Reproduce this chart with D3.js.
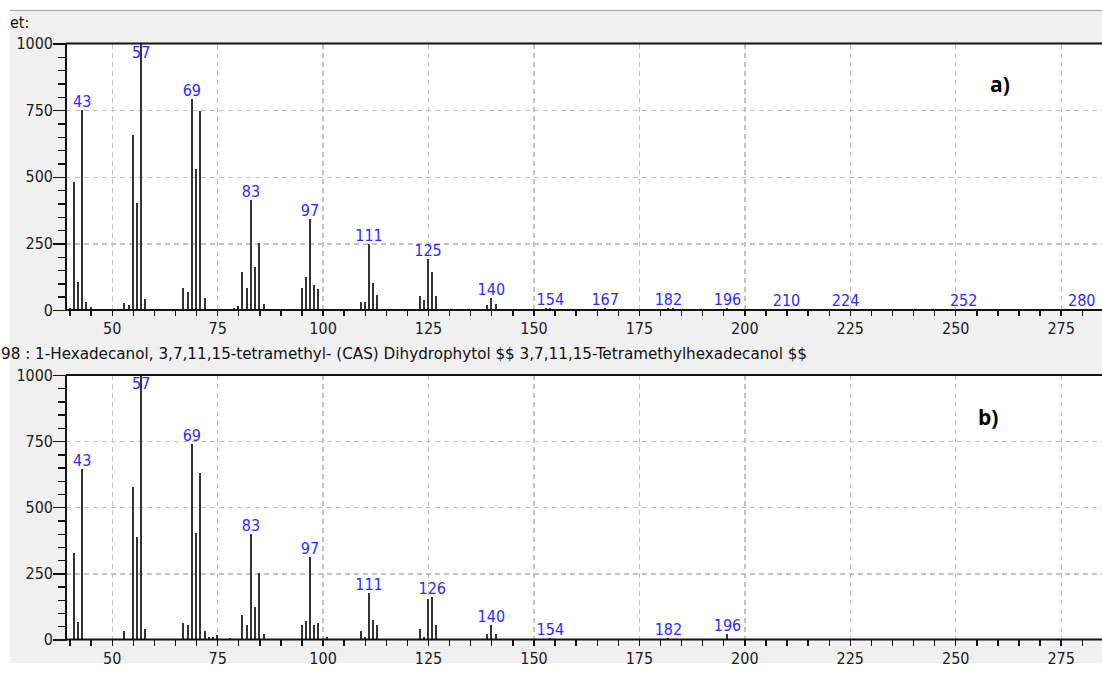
<!DOCTYPE html>
<html lang="en">
<head>
<meta charset="utf-8">
<title>Mass spectra a) and b)</title>
<script src="https://cdn.jsdelivr.net/npm/d3@7"></script>
<style>
	body { margin: 0; background: #fff; }
	.axis path { display: none; }
	.axis line { stroke: #111; stroke-width: 1.4; shape-rendering: crispEdges; }
	.axis text { font-family: "DejaVu Sans Condensed", "DejaVu Sans", sans-serif; font-size: 16px; fill: #1c1c1c; }
	.grid path { display: none; }
	.grid line { stroke: #c2c2c2; stroke-width: 1.3; stroke-dasharray: 5,4; shape-rendering: crispEdges; }
	.peak { stroke: #333; stroke-width: 2; shape-rendering: crispEdges; }
	.plabel { font-family: "DejaVu Sans Condensed", "DejaVu Sans", sans-serif; font-size: 16px; fill: #2b2bff; text-anchor: middle; }
	.tag { font-family: "Open Sans", "Liberation Sans", sans-serif; font-weight: bold; font-size: 21px; fill: #000; }
</style>
</head>
<body>
<div id="chart"></div>
<script>
// ---- data ----
// a) sample spectrum
var massA = [40,41,42,43,44,45, 53,54,55,56,57,58, 67,68,69,70,71,72,
             79,80,81,82,83,84,85,86, 95,96,97,98,99,100, 109,110,111,112,113,
             123,124,125,126,127, 139,140,141, 153,154, 167, 182,183, 196, 210,224,252,280];
var intA  = [8,481,104,752,31,12, 25,19,656,402,1000,40, 81,69,790,529,748,46,
             9,15,141,81,412,160,250,21, 81,122,340,92,80,5, 31,31,247,100,56,
             52,37,191,141,52, 17,46,21, 8,9, 6, 8,6, 7, 2,2,2,2];
var labelsA = [43,57,69,83,97,111,125,140,154,167,182,196,210,224,252,280];

// b) library spectrum (Dihydrophytol)
var massB = [41,42,43, 53,55,56,57,58, 67,68,69,70,71,72,73,74,75, 78,
             81,82,83,84,85,86, 95,96,97,98,99,101, 109,110,111,112,113,
             123,124,125,126,127, 139,140,141, 154,182,196];
var intB  = [326,67,643, 31,575,386,1000,38, 61,55,739,404,631,32,8,8,17, 7,
             93,55,398,123,251,20, 56,69,313,56,62,8, 32,8,177,75,56,
             38,9,153,160,56, 20,55,20, 7,7,20];
var labelsB = [43,57,69,83,97,111,126,140,154,182,196];

var xTicks = d3.range(40, 285, 5);
var yTicks = d3.range(0, 1001, 50);
var titleB = "98 : 1-Hexadecanol, 3,7,11,15-tetramethyl- (CAS) Dihydrophytol $$ 3,7,11,15-Tetramethylhexadecanol $$";

var W = 1102, H = 675;
var left = 66;

var svg = d3.select("#chart").append("svg")
	.attr("width", W).attr("height", H);

// window background
svg.append("rect").attr("width", W).attr("height", H).attr("fill", "#fff");
svg.append("rect").attr("x", 10).attr("y", 11).attr("width", W - 10).attr("height", 652).attr("fill", "#f0f0f0");
svg.append("line").attr("x1", 10).attr("x2", W).attr("y1", 10.5).attr("y2", 10.5)
	.attr("stroke", "#a0a0a0").attr("stroke-width", 1);

svg.append("text").attr("x", 10).attr("y", 28)
	.style("font-family", "'DejaVu Sans Condensed', sans-serif").style("font-size", "16px")
	.attr("fill", "#111").text("et:");

var xScale = d3.scaleLinear().domain([39.16, 284.8]).range([left, W]);

function drawPanel(top, bottom, mass, inten, labels, tag, tagX, tagY) {
	var yScale = d3.scaleLinear().domain([0, 1000]).range([bottom, top]);
	var g = svg.append("g");

	// plot area
	g.append("rect").attr("x", left).attr("y", top)
		.attr("width", W - left).attr("height", bottom - top).attr("fill", "#fff");

	// grid
	g.append("g").attr("class", "grid")
		.attr("transform", "translate(0," + top + ")")
		.call(d3.axisBottom(xScale).tickValues(d3.range(50, 285, 25))
			.tickSize(bottom - top).tickFormat(""));
	g.append("g").attr("class", "grid")
		.attr("transform", "translate(" + left + ",0)")
		.call(d3.axisRight(yScale).tickValues([250, 500, 750])
			.tickSize(W - left).tickFormat(""));

	// peaks
	g.selectAll(".peak").data(mass).enter().append("line")
		.attr("class", "peak")
		.attr("x1", function(d) { return Math.round(xScale(d)); })
		.attr("x2", function(d) { return Math.round(xScale(d)); })
		.attr("y1", yScale(0))
		.attr("y2", function(d, i) { return yScale(inten[i]); });

	// peak labels
	g.selectAll(".plabel").data(labels).enter().append("text")
		.attr("class", "plabel")
		.attr("x", function(d) { return xScale(d); })
		.attr("y", function(d) {
			var v = inten[mass.indexOf(d)];
			return Math.max(yScale(v) - 3, top + 14);
		})
		.text(function(d) { return d; });

	// x axis
	g.append("g").attr("class", "axis")
		.attr("transform", "translate(0," + bottom + ")")
		.call(d3.axisBottom(xScale).tickValues(xTicks).tickSize(6).tickPadding(7)
			.tickFormat(function(d) { return d % 25 === 0 ? d : ""; }));

	// y axis
	var ya = g.append("g").attr("class", "axis")
		.attr("transform", "translate(" + left + ",0)")
		.call(d3.axisLeft(yScale).tickValues(yTicks).tickSize(7)
			.tickFormat(function(d) { return d % 250 === 0 ? d : ""; }));
	ya.selectAll(".tick line")
		.attr("x2", function(d) { return d % 250 === 0 ? -13 : -8; });
	ya.selectAll(".tick text").attr("x", -13);

	// frame
	g.append("line").attr("x1", left).attr("x2", W).attr("y1", top).attr("y2", top)
		.attr("stroke", "#111").attr("stroke-width", 2);
	g.append("line").attr("x1", left).attr("x2", left).attr("y1", top).attr("y2", bottom + 1)
		.attr("stroke", "#111").attr("stroke-width", 2);
	g.append("line").attr("x1", left - 1).attr("x2", W).attr("y1", bottom).attr("y2", bottom)
		.attr("stroke", "#111").attr("stroke-width", 2);

	g.append("text").attr("class", "tag").attr("x", tagX).attr("y", tagY).text(tag);
}

drawPanel(43.5, 310, massA, intA, labelsA, "a)", 990, 92);
drawPanel(375, 639.5, massB, intB, labelsB, "b)", 978, 425);

// library hit title between panels
svg.append("text").attr("x", 1).attr("y", 359)
	.attr("textLength", 806).attr("lengthAdjust", "spacingAndGlyphs")
	.style("font-family", "'Liberation Sans Narrow', 'DejaVu Sans Condensed', sans-serif")
	.style("font-size", "15px").attr("fill", "#111")
	.text(titleB);
</script>
</body>
</html>
